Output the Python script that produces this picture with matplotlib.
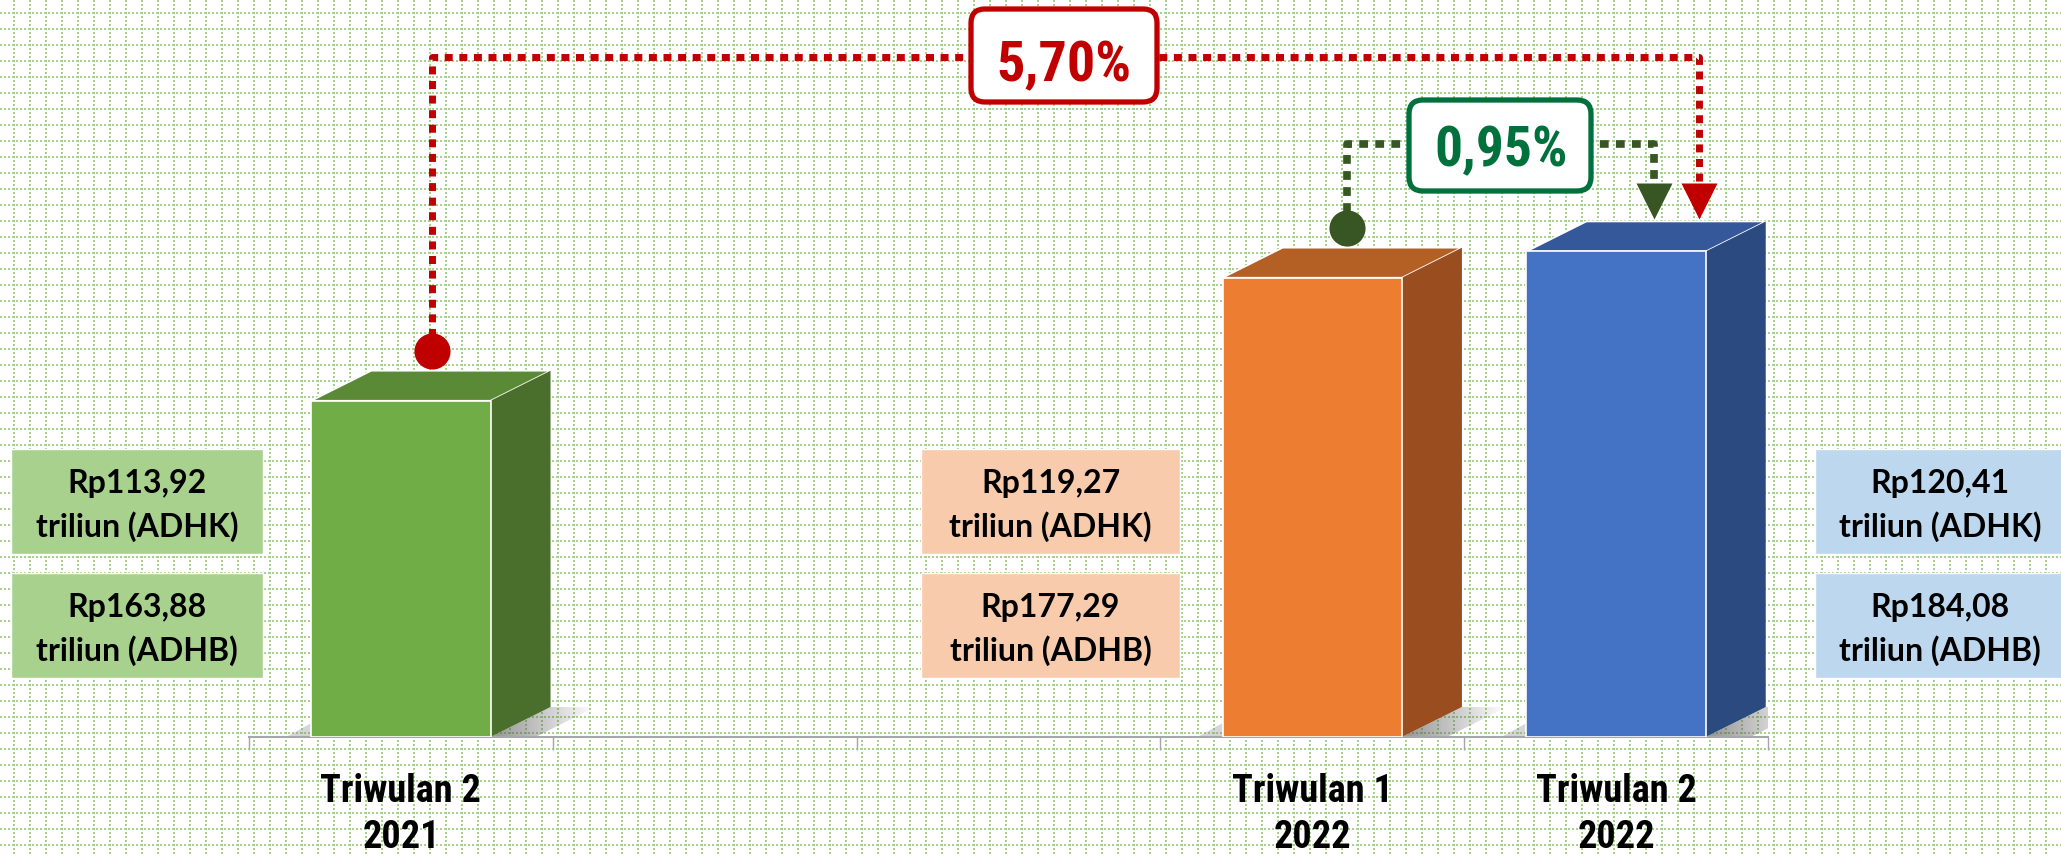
import matplotlib
matplotlib.use('Agg')
import matplotlib.pyplot as plt
import numpy as np
from matplotlib import font_manager
from matplotlib.font_manager import FontProperties
from matplotlib.patches import Polygon, FancyBboxPatch, Rectangle

# data (nilai PDRB, triliun rupiah)
kategori = ['Triwulan 2\n2021', 'Triwulan 1\n2022', 'Triwulan 2\n2022']
posisi = [0, 3, 4]   # slot Triwulan 3 & 4 2021 dikosongkan
adhk = [113.92, 119.27, 120.41]
adhb = [163.88, 177.29, 184.08]
label_yoy = '5,70%'
label_qtq = '0,95%'

warna_depan = ['#70ad47', '#ed7d31', '#4472c4']
warna_atas = ['#5b8a37', '#b45f24', '#34589a']
warna_samping = ['#4a6e2b', '#9a4e1f', '#2b4a7f']
warna_kotak = ['#a9d18e', '#f8cbad', '#bdd7ee']

# font: cari font sempit (narrow/condensed) bila ada
file_font = [f.fname for f in font_manager.fontManager.ttflist]
file_font += font_manager.findSystemFonts()
kandidat = ['LiberationSansNarrow-Bold.', 'RobotoCondensed-Bold.', 'DejaVuSansCondensed-Bold.',
            'OpenSans_Condensed-Bold', 'OpenSans-CondBold', 'NotoSans-CondensedBold', 'Roboto_Condensed-Bold']
fp_sempit = None
for kd in kandidat:
    cocok = [f for f in file_font if kd in f.split('/')[-1]]
    if cocok:
        fp_sempit = FontProperties(fname=cocok[0])
        break
if fp_sempit is None:
    fp_sempit = FontProperties(family='Liberation Sans', weight='bold')
    skala = 0.88
else:
    skala = 1.0

nama_font = {f.name for f in font_manager.fontManager.ttflist}
font_nilai = 'Lato' if 'Lato' in nama_font else 'DejaVu Sans'

W, H = 2061, 856
fig = plt.figure(figsize=(W / 100, H / 100), dpi=100)

# latar belakang: grid titik-titik hijau
bg = fig.add_axes([0, 0, 1, 1], zorder=0)
bg.set_xlim(0, W)
bg.set_ylim(H, 0)
bg.axis('off')
for x in np.arange(14, W, 16):
    bg.plot([x, x], [0, H], color='#a9d18e', lw=1.44, ls=(0, (1, 1)))
for y in np.arange(12.7, H, 16):
    bg.plot([0, W], [y, y], color='#a9d18e', lw=1.44, ls=(0, (1, 1)))

# axes batang
ax = fig.add_axes([249 / W, 119 / H, 1519 / W, 737 / H], zorder=1)
ax.patch.set_alpha(0)
ybawah = 99.3
k = 23.0  # px per satuan
ax.set_xlim(-0.5, 4.5)
ax.set_ylim(ybawah, ybawah + 737 / k)
lebar = 0.59
ppx = 1519 / 5
dx = 60 / ppx
dy = 30 / k

ax.bar(posisi, np.array(adhk) - ybawah, bottom=ybawah, width=lebar,
       color=warna_depan, edgecolor='white', linewidth=1.2, zorder=3)

gradien = np.zeros((1, 100, 4))
gradien[..., :3] = 0.35
gradien[..., 3] = np.linspace(0.65, 0, 100)

for i, p in enumerate(posisi):
    v = adhk[i]
    xl, xr = p - lebar / 2, p + lebar / 2
    atas = Polygon([(xl, v), (xr, v), (xr + dx, v + dy), (xl + dx, v + dy)],
                   closed=True, fc=warna_atas[i], ec='white', lw=1.2, zorder=2)
    samping = Polygon([(xr, ybawah), (xr + dx, ybawah + dy), (xr + dx, v + dy), (xr, v)],
                      closed=True, fc=warna_samping[i], ec='none', zorder=2)
    ax.add_patch(atas)
    ax.add_patch(samping)
    # bayangan
    ext = 45 / ppx
    bay = Polygon([(xr, ybawah), (xr + dx, ybawah + dy), (xr + dx + ext, ybawah + dy), (xr + ext, ybawah)],
                  closed=True, fc='none', ec='none')
    ax.add_patch(bay)
    im = ax.imshow(gradien, extent=[xr, xr + dx + ext, ybawah, ybawah + dy],
                   aspect='auto', zorder=1, interpolation='bilinear')
    im.set_clip_path(bay)
    kiri = Polygon([(xl, ybawah), (xl, ybawah + 14 / k), (xl - 25 / ppx, ybawah)],
                   closed=True, fc='#8c8c8c', ec='none', alpha=0.35, zorder=1)
    ax.add_patch(kiri)

ax.set_xlim(-0.5, 4.5)
ax.set_ylim(ybawah, ybawah + 737 / k)
for s in ['top', 'right', 'left']:
    ax.spines[s].set_visible(False)
ax.spines['bottom'].set_color('#a6a6a6')
ax.spines['bottom'].set_linewidth(1.5)
ax.set_xticks(np.arange(-0.5, 5, 1))
ax.tick_params(axis='x', length=9.4, width=1, color='#a6a6a6', labelbottom=False)
ax.set_yticks([])

# overlay dalam koordinat piksel
ov = fig.add_axes([0, 0, 1, 1], zorder=2)
ov.patch.set_alpha(0)
ov.set_xlim(0, W)
ov.set_ylim(H, 0)
ov.axis('off')


def ke_px(x, y):
    a, b = ax.transData.transform((x, y))
    return a, H - b


def fp(ukuran):
    f = fp_sempit.copy()
    f.set_size(ukuran * skala)
    return f


# label kategori
for i, p in enumerate(posisi):
    cx, _ = ke_px(p, ybawah)
    baris = kategori[i].split('\n')
    ov.text(cx, 802, baris[0], ha='center', va='baseline', fontproperties=fp(27.5), color='black')
    ov.text(cx, 848, baris[1], ha='center', va='baseline', fontproperties=fp(27.5), color='black')

# kotak nilai
kotak_kiri = [11, 921, 1815]
kotak_lebar = [252, 259, 250]
for i in range(len(posisi)):
    cx = kotak_kiri[i] + kotak_lebar[i] / 2
    for top, nilai, jenis in [(449, adhk[i], 'ADHK'), (573, adhb[i], 'ADHB')]:
        ov.add_patch(Rectangle((kotak_kiri[i], top), kotak_lebar[i], 105,
                               fc=warna_kotak[i], ec='white', lw=1))
        ov.text(cx, top + 44, ('Rp%.2f' % nilai).replace('.', ','), ha='center',
                va='baseline', fontsize=23, fontweight='bold', family=font_nilai)
        ov.text(cx, top + 88, 'triliun (%s)' % jenis, ha='center',
                va='baseline', fontsize=23, fontweight='bold', family=font_nilai)

# konektor
x0, t0 = ke_px(posisi[0], adhk[0])
x1, t1 = ke_px(posisi[1], adhk[1])
x2, t2 = ke_px(posisi[2], adhk[2])
merah = '#c00000'
hijau_tua = '#375623'
hijau = '#00703c'

# merah (yoy): Triwulan 2 2021 -> Triwulan 2 2022
cxr, cyr = x0 + 31, t0 - 50
axr = x2 + 83
ov.plot([cxr, cxr, axr, axr], [cyr, 57, 57, t2 - 34], color=merah, lw=5,
        ls=(0, (1.15, 0.95)), zorder=3)
ov.plot([cxr], [cyr], marker='o', ms=26, color=merah, mec='none', zorder=4)
ov.plot([axr], [t2 - 32 - 18], marker='v', ms=26, color=merah, mec='none', zorder=4)

# hijau (qtq): Triwulan 1 2022 -> Triwulan 2 2022
cxg, cyg = x1 + 35, t1 - 50
axg = x2 + 38
ov.plot([cxg, cxg, axg, axg], [cyg, 144, 144, t2 - 34], color=hijau_tua, lw=5.5,
        ls=(0, (1.15, 0.95)), zorder=3)
ov.plot([cxg], [cyg], marker='o', ms=26, color=hijau_tua, mec='none', zorder=4)
ov.plot([axg], [t2 - 32 - 18], marker='v', ms=26, color=hijau_tua, mec='none', zorder=4)

# kotak persentase
ov.add_patch(FancyBboxPatch((971, 9), 186, 93, boxstyle='round,pad=0,rounding_size=14',
                            fc='white', ec=merah, lw=3.8, zorder=5))
ov.text(1064, 81, label_yoy, ha='center', va='baseline', fontproperties=fp(40.5),
        color=merah, zorder=6)
ov.add_patch(FancyBboxPatch((1409, 100), 182, 91, boxstyle='round,pad=0,rounding_size=14',
                            fc='white', ec=hijau, lw=3.8, zorder=5))
ov.text(1501, 166, label_qtq, ha='center', va='baseline', fontproperties=fp(40),
        color=hijau, zorder=6)

fig.savefig('out.png', dpi=100, facecolor='white')
